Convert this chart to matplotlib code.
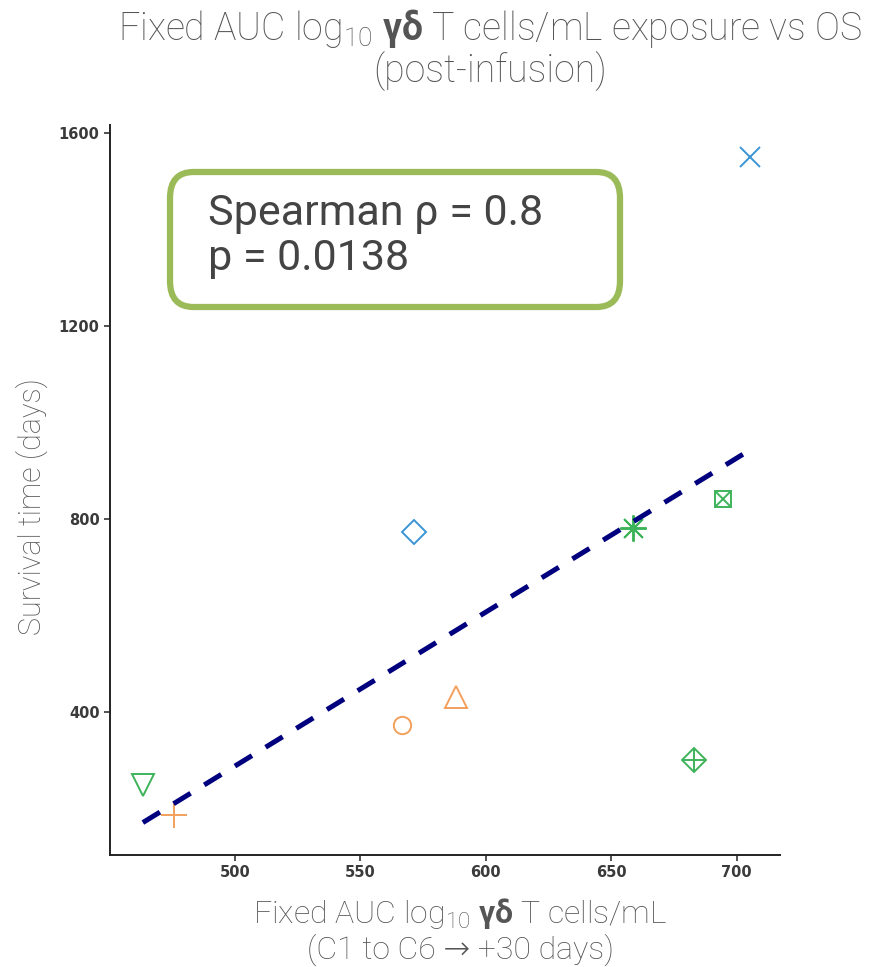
import numpy as np
import matplotlib
matplotlib.use("Agg")
import matplotlib.pyplot as plt
from matplotlib.patches import FancyBboxPatch

plt.rcParams['font.family'] = ['Roboto', 'DejaVu Sans']
plt.rcParams['mathtext.fontset'] = 'custom'
plt.rcParams['mathtext.rm'] = 'Roboto:light'
plt.rcParams['mathtext.bf'] = 'Roboto:bold'

# Patient-level exposure (AUC) and overall survival
auc = [463.3, 475.7, 566.5, 588.0, 571.3, 658.6, 694.4, 682.9, 705.2]
survival = [250, 187, 373, 431, 773, 781, 841, 300, 1550]
groups = ['green', 'orange', 'orange', 'orange', 'blue', 'green', 'green', 'green', 'blue']
shapes = ['tri_down', 'plus', 'circle', 'tri_up', 'diamond', 'asterisk',
          'square_x', 'diamond_plus', 'cross']

x_ticks = [500, 550, 600, 650, 700]
y_ticks = [400, 800, 1200, 1600]

palette = {'orange': '#F2A05C', 'blue': '#3A95D5', 'green': '#3DB35A'}

# shape name -> list of (matplotlib marker, size)
shape_layers = {
    'tri_down': [('v', 16)],
    'tri_up': [('^', 16)],
    'plus': [('+', 19)],
    'circle': [('o', 12.5)],
    'diamond': [('D', 12.5)],
    'asterisk': [((8, 2, 0), 19)],
    'square_x': [('s', 12), ('x', 10)],
    'diamond_plus': [('D', 12.5), ('+', 17)],
    'cross': [('x', 14)],
}

fig = plt.figure(figsize=(8.69, 9.67), dpi=100)
ax = fig.add_axes([0.1266, 0.1158, 0.7710, 0.7549])

for xv, yv, g, s in zip(auc, survival, groups, shapes):
    for mk, ms in shape_layers[s]:
        filled = mk in ('+', 'x') or isinstance(mk, tuple)
        ax.plot([xv], [yv], linestyle='none', marker=mk, markersize=ms,
                markerfacecolor=palette[g] if filled else 'none',
                markeredgecolor=palette[g], markeredgewidth=1.4, zorder=3)

# least-squares trend line across the observed exposure range
slope, intercept = np.polyfit(auc, survival, 1)
xs = np.array([min(auc), max(auc)])
ax.plot(xs, slope * xs + intercept, color='#00007F', linewidth=3.6,
        linestyle=(0, (4.0, 3.2)), zorder=4, solid_capstyle='butt')

ax.set_xlim(450.2, 717.3)
ax.set_ylim(104, 1617)
ax.set_xticks(x_ticks)
ax.set_yticks(y_ticks)
ax.tick_params(axis='both', length=4, width=1.2, color='#333333',
               labelsize=10.5, labelcolor='#3a3a3a')
for lab in ax.get_xticklabels() + ax.get_yticklabels():
    lab.set_fontfamily('DejaVu Sans')
    lab.set_fontweight('bold')
for side in ('top', 'right'):
    ax.spines[side].set_visible(False)
for side in ('left', 'bottom'):
    ax.spines[side].set_linewidth(1.4)
    ax.spines[side].set_color('#222222')

ax.set_ylabel('Survival time (days)', fontsize=22, color='#555555',
              fontweight='light')
ax.yaxis.set_label_coords(-0.093, 0.477)
ax.set_xlabel('Fixed AUC log$_{10}$ $\\mathbf{γδ}$ T cells/mL\n(C1 to C6 \u2192 +30 days)',
              fontsize=23, color='#555555', fontweight='light',
              linespacing=1.1)
ax.xaxis.set_label_coords(0.523, -0.056)
ax.xaxis.label.set_va('top')

fig.text(0.564, 0.993,
         'Fixed AUC log$_{10}$ $\\mathbf{γδ}$ T cells/mL exposure vs OS\n(post-infusion)',
         ha='center', va='top', fontsize=27, color='#555555',
         fontweight='light', linespacing=1.05)

# statistics annotation box
box = FancyBboxPatch((170 / 869, 1 - 307 / 967), 450 / 869, 135 / 967,
                     boxstyle='round,pad=0,rounding_size=0.027',
                     transform=fig.transFigure, facecolor='white',
                     edgecolor='#9BBB59', linewidth=4.5, zorder=5)
fig.patches.append(box)
fig.text(208 / 869, 1 - 236 / 967, 'Spearman ρ = 0.8\np = 0.0138',
         ha='left', va='center', fontsize=31, color='#444444',
         linespacing=1.1, zorder=6)

fig.savefig('out.png', dpi=100)
